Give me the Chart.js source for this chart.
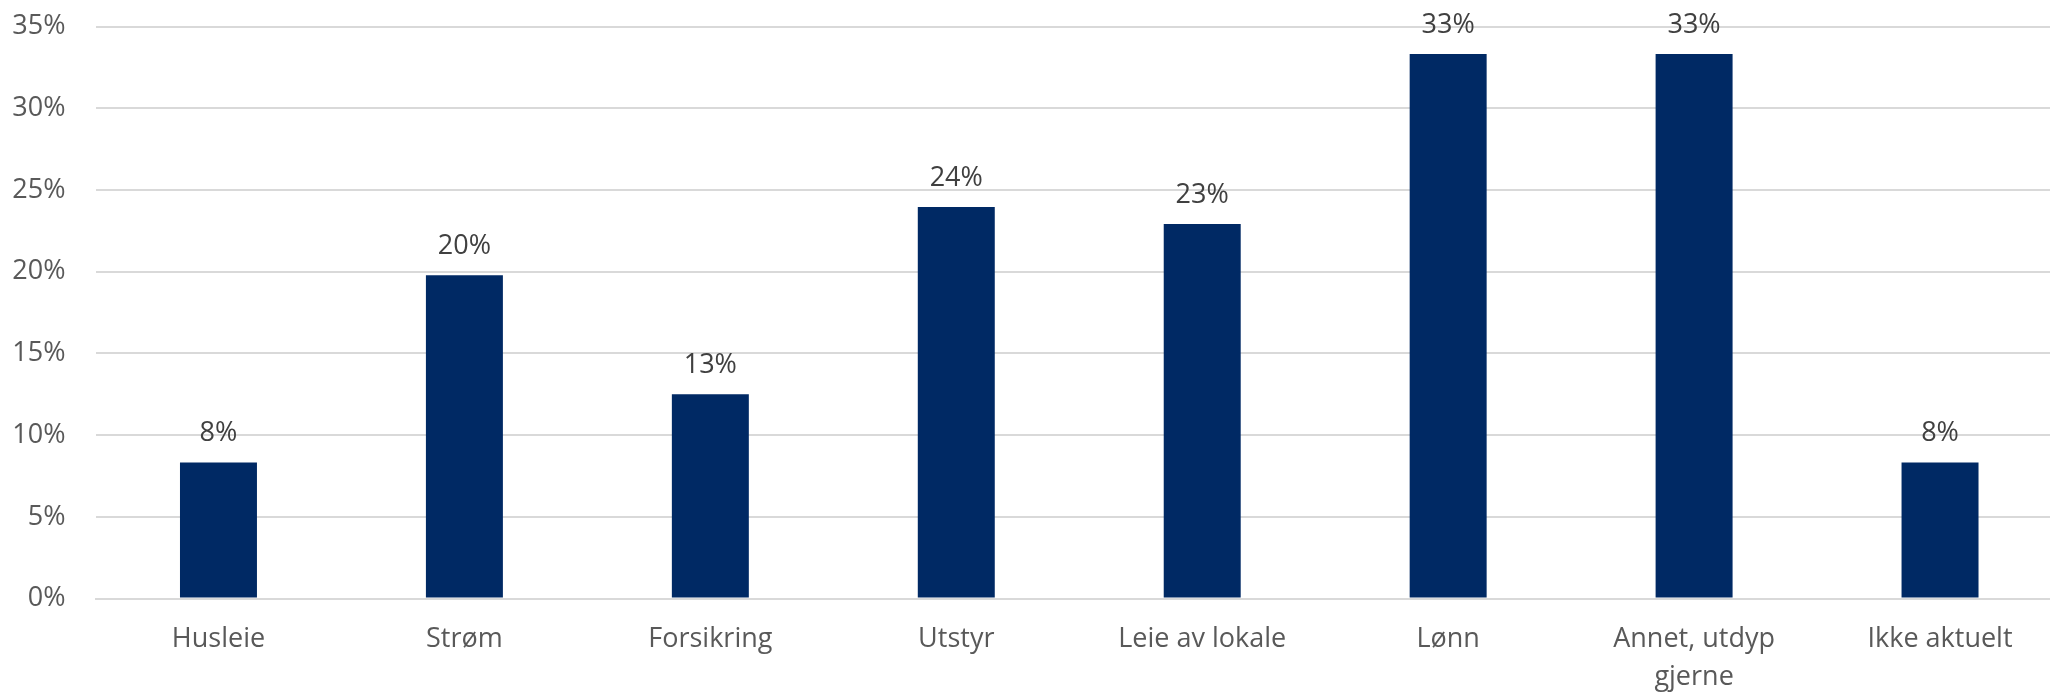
<!DOCTYPE html>
<html>
<head>
<meta charset="utf-8">
<script src="https://cdn.jsdelivr.net/npm/chart.js@4/dist/chart.umd.min.js"></script>
<style>
html,body{margin:0;padding:0;background:#fff;overflow:hidden;width:2050px;height:693px;}
#wrap{position:absolute;left:0;top:0;width:2075px;height:693px;}
</style>
</head>
<body>
<div id="wrap"><canvas id="c" width="2075" height="693"></canvas></div>
<script>
const categories = ['Husleie','Strøm','Forsikring','Utstyr','Leie av lokale','Lønn',['Annet, utdyp','gjerne'],'Ikke aktuelt'];
const values = [8.33, 19.79, 12.5, 23.96, 22.92, 33.33, 33.33, 8.33];
const yTicks = [0,5,10,15,20,25,30,35];

const FONT = "'Open Sans', 'Noto Sans', sans-serif";

const dataLabels = {
  id: 'dataLabels',
  afterDatasetsDraw(chart) {
    const ctx = chart.ctx;
    const meta = chart.getDatasetMeta(0);
    ctx.save();
    ctx.font = '27px ' + FONT;
    ctx.fillStyle = '#404040';
    ctx.textAlign = 'center';
    ctx.textBaseline = 'alphabetic';
    meta.data.forEach((bar, i) => {
      ctx.fillText(Math.round(values[i]) + '%', bar.x, bar.y - 21);
    });
    ctx.restore();
  }
};

new Chart(document.getElementById('c'), {
  type: 'bar',
  data: {
    labels: categories,
    datasets: [{
      data: values,
      backgroundColor: '#002964',
      borderWidth: 0,
      barPercentage: 1,
      categoryPercentage: 0.313
    }]
  },
  options: {
    responsive: false,
    animation: false,
    devicePixelRatio: 1,
    layout: { padding: { top: 26.7, right: 12, left: 0, bottom: 0 } },
    plugins: { legend: { display: false }, tooltip: { enabled: false } },
    scales: {
      x: {
        grid: { display: false, drawTicks: false },
        border: { display: true, color: '#d9d9d9', width: 2 },
        ticks: {
          color: '#595959',
          font: { family: FONT, size: 27, lineHeight: 1.4 },
          padding: 22,
          maxRotation: 0,
          autoSkip: false
        },
        afterFit(scale) { scale.height = 94.5; }
      },
      y: {
        min: 0,
        max: 35,
        afterBuildTicks(scale) { scale.ticks = yTicks.map(v => ({ value: v })); },
        grid: { color: '#d9d9d9', lineWidth: 2, drawTicks: false },
        border: { display: false },
        ticks: {
          color: '#595959',
          font: { family: FONT, size: 27 },
          padding: 30,
          callback: v => v + '%'
        },
        afterFit(scale) { scale.width = 95.5; scale.paddingTop = 0; scale.paddingBottom = 0; }
      }
    }
  },
  plugins: [dataLabels]
});
</script>
</body>
</html>
